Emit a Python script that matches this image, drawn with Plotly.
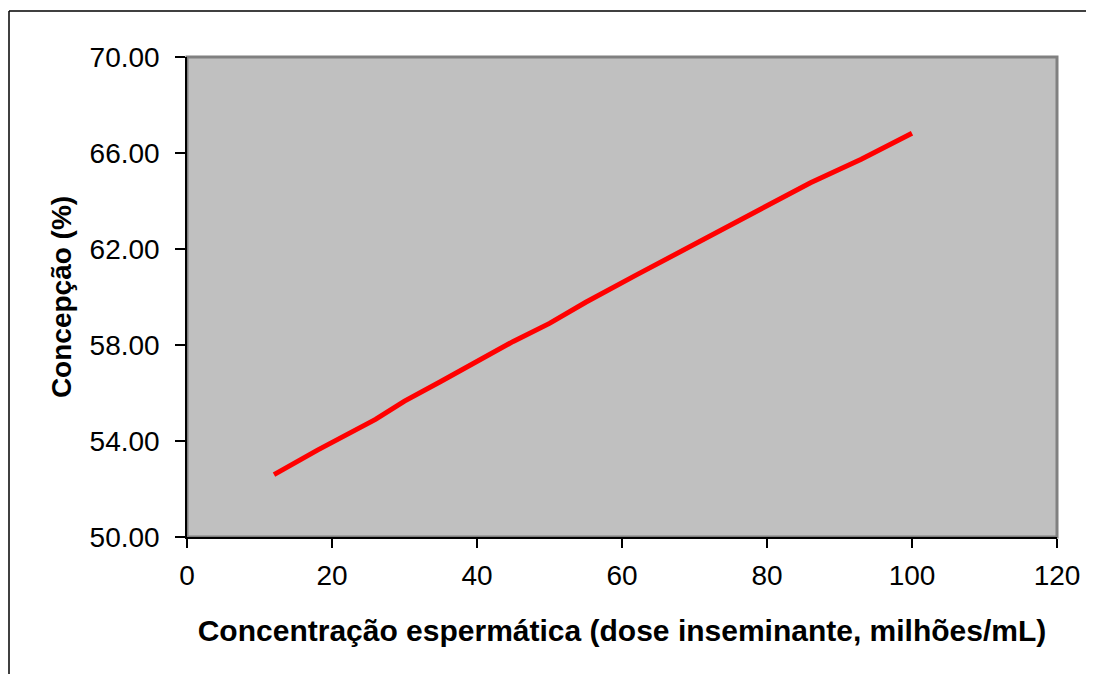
import plotly.graph_objects as go

# Data
dose = [12, 18, 26, 30, 35, 40, 45, 50, 55, 62, 67, 73, 80, 86, 93, 100]
concepcao = [52.60, 53.62, 54.90, 55.66, 56.48, 57.32, 58.15, 58.90, 59.78,
             60.92, 61.72, 62.70, 63.78, 64.76, 65.74, 66.82]

x_ticks = [0, 20, 40, 60, 80, 100, 120]
y_ticks = [50, 54, 58, 62, 66, 70]
y_tick_labels = ["50.00", "54.00", "58.00", "62.00", "66.00", "70.00"]

# page body has an 8px margin, so the figure is laid out 8px in from the window edge
OFF = 8
W, H = 1094 - OFF, 674 - OFF
L, R, T, B = 187 - OFF, 1057 - OFF, 57 - OFF, 537 - OFF

def px(x):
    return (x - L) / (R - L)

def py(y):
    return (B - y) / (B - T)

fig = go.Figure()
fig.add_trace(go.Scatter(x=dose, y=concepcao, mode="lines",
                         line=dict(color="#FF0000", width=5), showlegend=False))

font = "Liberation Sans, Arial, sans-serif"

fig.update_layout(
    width=W, height=H,
    margin=dict(l=L, r=W - R, t=T, b=H - B, pad=0),
    paper_bgcolor="white",
    plot_bgcolor="#C0C0C0",
    font=dict(family=font, color="black"),
    xaxis=dict(range=[0, 120], tickvals=x_ticks, ticktext=[str(v) for v in x_ticks],
               showgrid=False, zeroline=False, showline=True, linecolor="black", linewidth=1.5,
               ticks="outside", ticklen=9, tickwidth=1.5, tickcolor="black",
               ticklabelstandoff=4,
               tickfont=dict(size=28, family=font),
               title=dict(text="<b>Concentração espermática (dose inseminante, milhões/mL)</b>",
                          font=dict(size=30, family=font), standoff=30)),
    yaxis=dict(range=[50, 70], tickvals=y_ticks, ticktext=y_tick_labels,
               showgrid=False, zeroline=False, showline=True, linecolor="black", linewidth=1.5,
               ticks="outside", ticklen=10, tickwidth=1.5, tickcolor="black",
               ticklabelstandoff=10,
               tickfont=dict(size=28, family=font),
               title=dict(text="<b>Concepção (%)</b>", font=dict(size=28, family=font), standoff=10)),
    shapes=[
        dict(type="rect", xref="paper", yref="paper", x0=0, x1=1, y0=0, y1=1,
             line=dict(color="#808080", width=3), layer="below"),
        dict(type="line", xref="paper", yref="paper", x0=px(9 - OFF), x1=px(W + 5), y0=py(11 - OFF), y1=py(11 - OFF),
             line=dict(color="black", width=1.5)),
        dict(type="line", xref="paper", yref="paper", x0=px(9 - OFF), x1=px(9 - OFF), y0=py(11 - OFF), y1=py(H + 5),
             line=dict(color="black", width=1.5)),
    ],
)

fig.write_html("out.html")
